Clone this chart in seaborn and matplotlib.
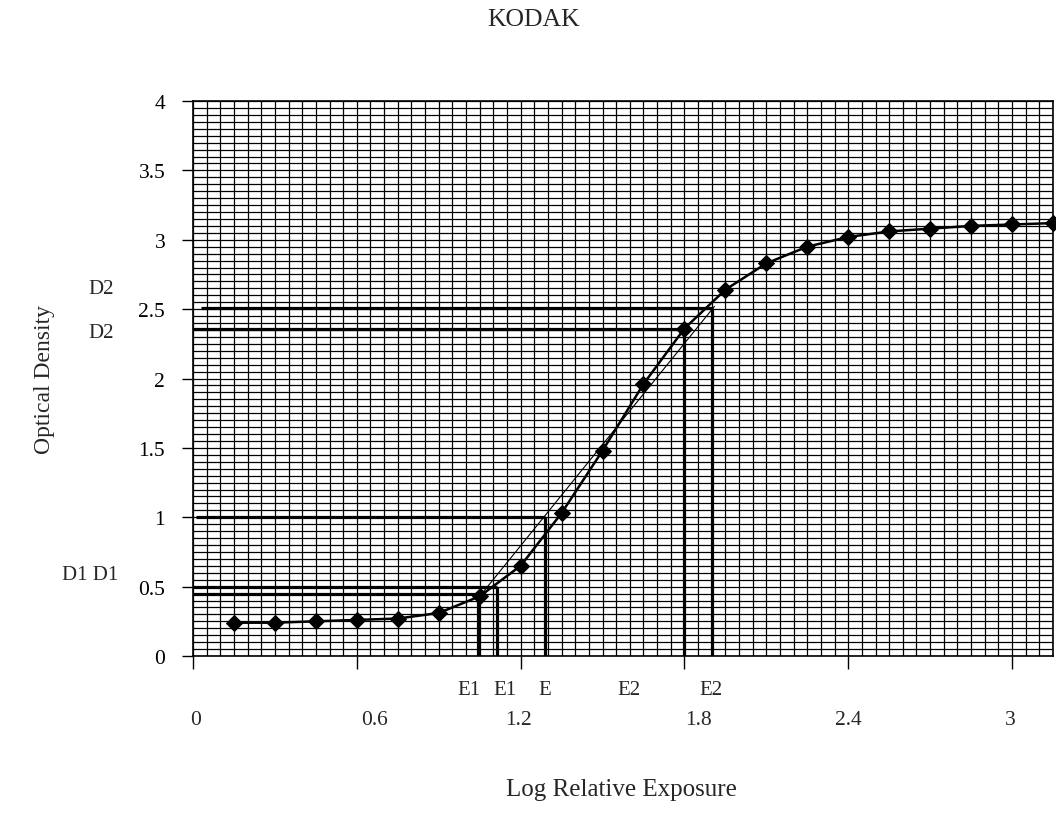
import matplotlib
matplotlib.use("Agg")
import matplotlib.pyplot as plt
import seaborn as sns
import numpy as np
import pandas as pd

# characteristic curve: log relative exposure vs optical density
log_exposure = [0.15, 0.30, 0.45, 0.60, 0.75, 0.90, 1.05, 1.20, 1.35, 1.50, 1.65,
                1.80, 1.95, 2.10, 2.25, 2.40, 2.55, 2.70, 2.85, 3.00, 3.15]
density = [0.24, 0.24, 0.25, 0.26, 0.27, 0.31, 0.43, 0.65, 1.03, 1.48, 1.96,
           2.36, 2.64, 2.83, 2.95, 3.02, 3.06, 3.08, 3.10, 3.11, 3.12]

d_levels = [2.51, 2.36, 1.00, 0.50, 0.45]
d_start = [0.03, 0.0, 0.01, 0.0, 0.0]
e_levels = [1.90, 1.80, 1.29, 1.115, 1.045]

# thin gradient line
grad_x = [1.05, 1.91]
grad_y = [0.43, 2.52]

x_ticks = [0, 0.6, 1.2, 1.8, 2.4, 3.0]
x_ticklabels = ["0", "0.6", "1.2", "1.8", "2.4", "3"]
# the typed labels sit a little off their tick marks
x_label_pos = [0.011, 0.665, 1.191, 1.852, 2.40, 2.992]
y_ticks = [0, 0.5, 1, 1.5, 2, 2.5, 3, 3.5, 4]
y_ticklabels = ["0", "0.5", "1", "1.5", "2", "2.5", "3", "3.5", "4"]

e_labels = ["E1", "E1", "E", "E2", "E2"]
e_label_x = [1.012, 1.144, 1.289, 1.597, 1.896]
d_labels = ["D2", "D2", "D1 D1"]
d_label_x = [-0.336, -0.336, -0.376]
d_label_y = [2.65, 2.33, 0.59]

df = pd.DataFrame({"exposure": log_exposure, "density": density})

sns.set_theme(style="ticks")
plt.rcParams["font.family"] = ["Liberation Serif", "DejaVu Serif"]

fig = plt.figure(figsize=(10.56, 8.29), dpi=100)
ax = fig.add_axes([193 / 1056, 1 - 657 / 829, (1053 - 193) / 1056, (657 - 102) / 829])

# dense graph-paper grid
ax.set_xticks(np.arange(0, 3.151, 0.05), minor=True)
ax.set_yticks(np.arange(0, 4.001, 0.05), minor=True)
ax.grid(which="both", color="black", linewidth=0.9)
ax.set_axisbelow(True)

for d, xs, e in zip(d_levels, d_start, e_levels):
    ax.plot([xs, e], [d, d], color="black", linewidth=2.3, solid_capstyle="butt")
    ax.plot([e, e], [0, d], color="black", linewidth=2.3, solid_capstyle="butt")

ax.plot(grad_x, grad_y, color="black", linewidth=0.8)

sns.lineplot(data=df, x="exposure", y="density", ax=ax, color="black",
             linewidth=1.8, marker="D", markersize=8, markeredgecolor="black",
             clip_on=False, zorder=5)

ax.set_xlim(0, 3.15)
ax.set_ylim(0, 4)
ax.set_xticks(x_ticks)
ax.set_xticklabels([])
ax.set_yticks(y_ticks)
ax.set_yticklabels(y_ticklabels)
ax.tick_params(axis="both", which="minor", length=0)
ax.tick_params(axis="x", which="major", length=9, width=1, colors="black")
ax.tick_params(axis="y", which="major", length=8, width=1, pad=12, labelsize=15.5, colors="black")
for s in ax.spines.values():
    s.set_color("black")
    s.set_linewidth(1.2)

ax.set_xlabel("")
ax.set_ylabel("")

for lab, x in zip(x_ticklabels, x_label_pos):
    ax.text(x, -0.455, lab, ha="center", va="center", fontsize=15.5)
for lab, x in zip(e_labels, e_label_x):
    ax.text(x, -0.24, lab, ha="center", va="center", fontsize=15)
for lab, x, y in zip(d_labels, d_label_x, d_label_y):
    ax.text(x, y, lab, ha="center", va="center", fontsize=15)

fig.text(534 / 1056, 1 - 20 / 829, "KODAK", ha="center", va="center", fontsize=18.5)
fig.text(45 / 1056, 1 - 380 / 829, "Optical Density", ha="center", va="center",
         rotation=90, fontsize=17)
fig.text(621 / 1056, 1 - 790 / 829, "Log Relative Exposure", ha="center", va="center",
         fontsize=18)

fig.savefig("out.png", dpi=100)
